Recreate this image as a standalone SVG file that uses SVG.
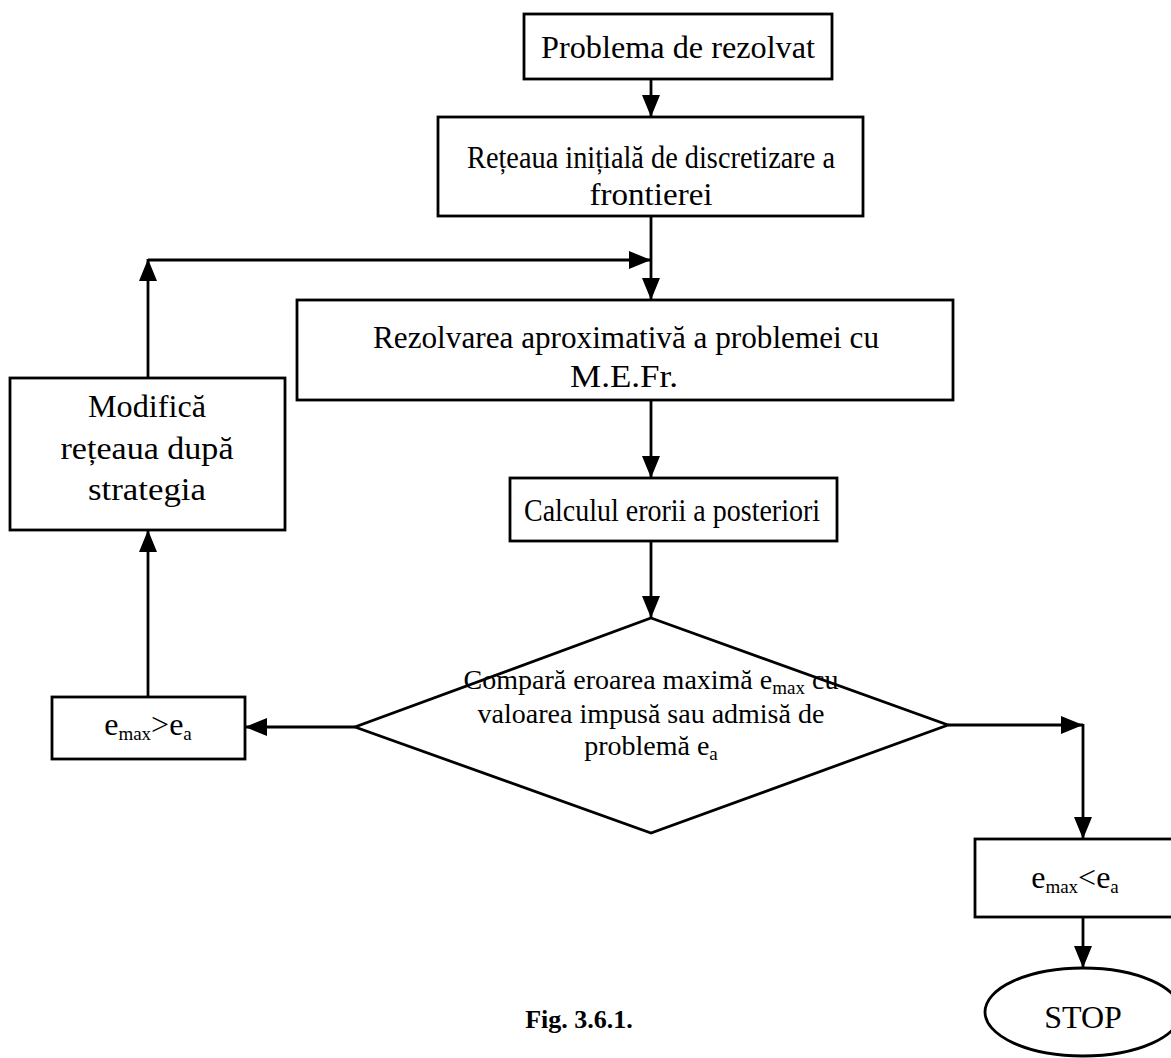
<svg xmlns="http://www.w3.org/2000/svg" width="1171" height="1058" viewBox="0 0 1171 1058">
  <style>
    .box { fill: #fff; stroke: #000; stroke-width: 2.8; }
    .line { fill: none; stroke: #000; stroke-width: 2.8; }
    .t { font-family: "Liberation Serif", "Times New Roman", serif; font-size: 32px; fill: #000; text-anchor: middle; }
    .d { font-family: "Liberation Serif", "Times New Roman", serif; font-size: 28px; fill: #000; text-anchor: middle; }
    .sub { font-size: 19px; }
    .cap { font-family: "Liberation Serif", "Times New Roman", serif; font-size: 26px; font-weight: bold; fill: #000; text-anchor: middle; }
  </style>
  <defs>
    <marker id="arrow" viewBox="0 0 22 18" refX="22" refY="9" markerWidth="22" markerHeight="18" markerUnits="userSpaceOnUse" orient="auto">
      <path d="M0,0 L22,9 L0,18 Z" fill="#000"/>
    </marker>
  </defs>
  <rect width="1171" height="1058" fill="#fff"/>

  <g id="connectors">
    <line class="line" x1="651" y1="79" x2="651" y2="117" marker-end="url(#arrow)"/>
    <line class="line" x1="651" y1="216" x2="651" y2="300" marker-end="url(#arrow)"/>
    <line class="line" x1="148" y1="260" x2="651" y2="260" marker-end="url(#arrow)"/>
    <line class="line" x1="148" y1="378" x2="148" y2="259" marker-end="url(#arrow)"/>
    <line class="line" x1="651" y1="400" x2="651" y2="478" marker-end="url(#arrow)"/>
    <line class="line" x1="651" y1="541" x2="651" y2="618" marker-end="url(#arrow)"/>
    <line class="line" x1="355" y1="727" x2="245" y2="727" marker-end="url(#arrow)"/>
    <line class="line" x1="148" y1="697" x2="148" y2="530" marker-end="url(#arrow)"/>
    <line class="line" x1="948" y1="725" x2="1083" y2="725" marker-end="url(#arrow)"/>
    <line class="line" x1="1083" y1="724" x2="1083" y2="839" marker-end="url(#arrow)"/>
    <line class="line" x1="1083" y1="917" x2="1083" y2="968" marker-end="url(#arrow)"/>
  </g>

  <g id="node-problema">
    <rect class="box" x="524" y="14" width="308" height="65"/>
    <text class="t" x="678" y="58" textLength="274" lengthAdjust="spacingAndGlyphs">Problema de rezolvat</text>
  </g>

  <g id="node-retea-initiala">
    <rect class="box" x="438" y="117" width="425" height="99"/>
    <text class="t" x="651" y="168" textLength="368" lengthAdjust="spacingAndGlyphs">Rețeaua inițială de discretizare a</text>
    <text class="t" x="651" y="205" textLength="123" lengthAdjust="spacingAndGlyphs">frontierei</text>
  </g>

  <g id="node-rezolvare">
    <rect class="box" x="297" y="300" width="656" height="100"/>
    <text class="t" x="626" y="348" textLength="506" lengthAdjust="spacingAndGlyphs">Rezolvarea aproximativă a problemei cu</text>
    <text class="t" x="624" y="387" textLength="108" lengthAdjust="spacingAndGlyphs">M.E.Fr.</text>
  </g>

  <g id="node-calcul-eroare">
    <rect class="box" x="510" y="478" width="327" height="63"/>
    <text class="t" x="672" y="521" textLength="296" lengthAdjust="spacingAndGlyphs">Calculul erorii a posteriori</text>
  </g>

  <g id="node-compara">
    <polygon class="box" points="651,618 948,725 651,833 355,727"/>
    <text class="d" x="651" y="689">Compară eroarea maximă e<tspan class="sub" dy="5">max</tspan><tspan dy="-5"> cu</tspan></text>
    <text class="d" x="651" y="723">valoarea impusă sau admisă de</text>
    <text class="d" x="651" y="755">problemă e<tspan class="sub" dy="5">a</tspan></text>
  </g>

  <g id="node-modifica">
    <rect class="box" x="10" y="378" width="275" height="152"/>
    <text class="t" x="147" y="417" textLength="118" lengthAdjust="spacingAndGlyphs">Modifică</text>
    <text class="t" x="147" y="459" textLength="173" lengthAdjust="spacingAndGlyphs">rețeaua după</text>
    <text class="t" x="147" y="500" textLength="118" lengthAdjust="spacingAndGlyphs">strategia</text>
  </g>

  <g id="node-emax-mare">
    <rect class="box" x="52" y="697" width="193" height="62"/>
    <text class="t" x="148" y="735">e<tspan class="sub" dy="5">max</tspan><tspan dy="-5">&gt;e</tspan><tspan class="sub" dy="5">a</tspan></text>
  </g>

  <g id="node-emax-mic">
    <rect class="box" x="975" y="839" width="200" height="78"/>
    <text class="t" x="1075" y="888">e<tspan class="sub" dy="5">max</tspan><tspan dy="-5">&lt;e</tspan><tspan class="sub" dy="5">a</tspan></text>
  </g>

  <g id="node-stop">
    <ellipse class="box" cx="1083" cy="1012" rx="98" ry="44"/>
    <text class="t" x="1083" y="1028">STOP</text>
  </g>

  <text class="cap" x="579" y="1028">Fig. 3.6.1.</text>
</svg>
